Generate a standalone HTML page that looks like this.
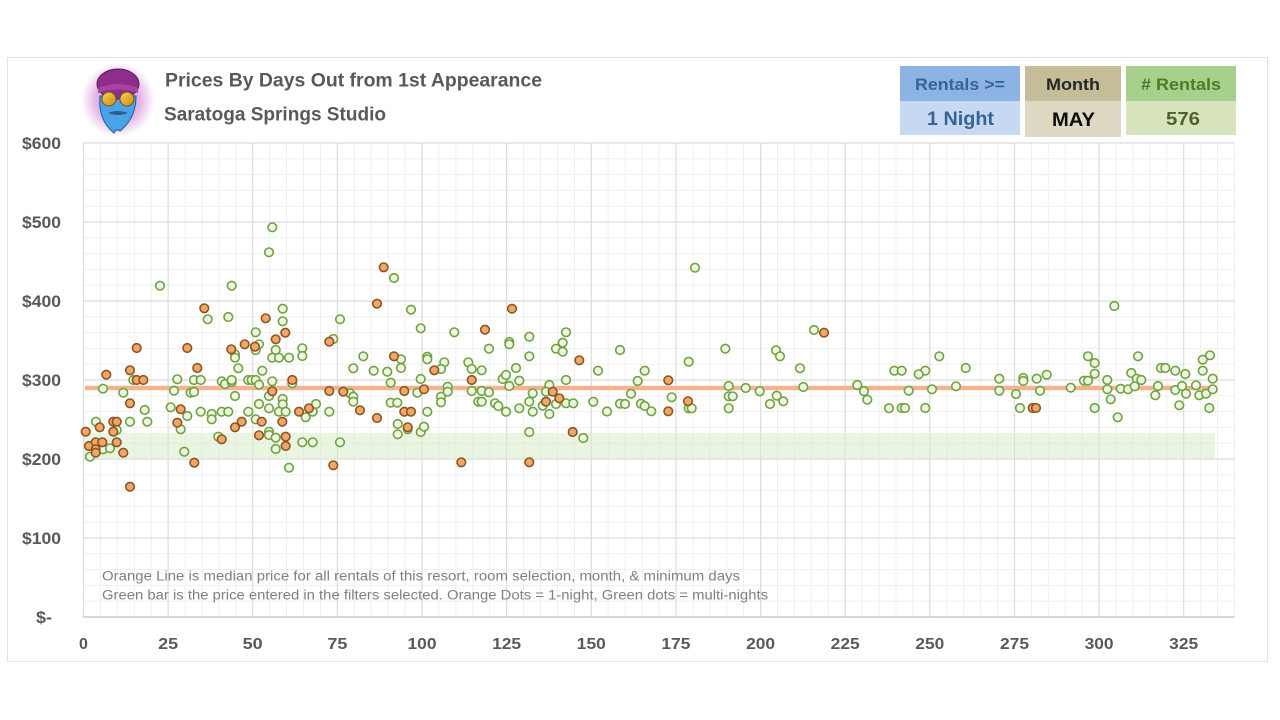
<!DOCTYPE html>
<html><head><meta charset="utf-8"><style>
html,body{margin:0;padding:0;background:#fff;}
svg{display:block;}
text{font-family:"Liberation Sans",Arial,sans-serif;}
</style></head><body>
<svg width="1280" height="720" viewBox="0 0 1280 720" xmlns="http://www.w3.org/2000/svg">
<defs>
<radialGradient id="glow" cx="50%" cy="50%" r="50%">
<stop offset="0%" stop-color="#c77ed0"/>
<stop offset="60%" stop-color="#e3b6e8"/>
<stop offset="100%" stop-color="#ffffff"/>
</radialGradient>
<linearGradient id="gold" x1="0" y1="0" x2="1" y2="1">
<stop offset="0%" stop-color="#f7d35a"/><stop offset="100%" stop-color="#c98a14"/>
</linearGradient>
</defs>
<rect x="0" y="0" width="1280" height="720" fill="#fff"/>
<rect x="7.5" y="57.5" width="1260" height="604" fill="#fff" stroke="#e4e4e4" stroke-width="1"/>

<!-- logo -->
<circle cx="118" cy="100" r="37" fill="url(#glow)"/>
<path d="M100 96 Q98 120 114 133 Q116 128 120 131 Q136 118 136 96 Z" fill="#4aa3e6" stroke="#2a6aa8" stroke-width="1.2"/>
<ellipse cx="118" cy="84" rx="21" ry="15" fill="#8e2d8c" stroke="#5a1a5a" stroke-width="1"/>
<path d="M98 88 Q118 80 138 88 L138 93 Q118 86 98 93 Z" fill="#a8439f"/>
<circle cx="109" cy="99" r="7" fill="url(#gold)" stroke="#7a5010" stroke-width="1"/>
<circle cx="127" cy="99" r="7" fill="url(#gold)" stroke="#7a5010" stroke-width="1"/>
<path d="M108 113 Q118 109 128 113 Q118 117 108 113Z" fill="#2f5e8e"/>

<!-- title -->
<text x="165" y="86.5" font-size="19" font-weight="bold" fill="#595959" textLength="377" lengthAdjust="spacingAndGlyphs">Prices By Days Out from 1st Appearance</text>
<text x="164" y="120.5" font-size="19" font-weight="bold" fill="#595959" textLength="222" lengthAdjust="spacingAndGlyphs">Saratoga Springs Studio</text>

<!-- boxes -->
<rect x="900" y="66" width="120" height="35" fill="#8db3e2"/>
<rect x="900" y="101" width="120" height="34" fill="#c6d9f1"/>
<text x="960" y="90" font-size="17" font-weight="bold" fill="#36639a" text-anchor="middle" textLength="90" lengthAdjust="spacingAndGlyphs">Rentals &gt;=</text>
<text x="960.5" y="125" font-size="19" font-weight="bold" fill="#36639a" text-anchor="middle" textLength="67" lengthAdjust="spacingAndGlyphs">1 Night</text>

<rect x="1025" y="66" width="96" height="35" fill="#c4bd97"/>
<rect x="1025" y="101" width="96" height="36" fill="#ddd9c3"/>
<text x="1073" y="90" font-size="17" font-weight="bold" fill="#262626" text-anchor="middle" textLength="54" lengthAdjust="spacingAndGlyphs">Month</text>
<text x="1073.5" y="126" font-size="19" font-weight="bold" fill="#0d0d0d" text-anchor="middle" textLength="43" lengthAdjust="spacingAndGlyphs">MAY</text>

<rect x="1126" y="66" width="110" height="35" fill="#a8d08d"/>
<rect x="1126" y="101" width="110" height="34" fill="#d8e4bc"/>
<text x="1181" y="90" font-size="17" font-weight="bold" fill="#4f7a28" text-anchor="middle" textLength="80" lengthAdjust="spacingAndGlyphs">#  Rentals</text>
<text x="1183" y="125" font-size="18" font-weight="bold" fill="#4f6228" text-anchor="middle" textLength="34" lengthAdjust="spacingAndGlyphs">576</text>

<!-- grid -->
<g stroke="#efefef" stroke-width="1">
<line x1="100.4" y1="143" x2="100.4" y2="617"/><line x1="117.3" y1="143" x2="117.3" y2="617"/><line x1="134.3" y1="143" x2="134.3" y2="617"/><line x1="151.2" y1="143" x2="151.2" y2="617"/>
<line x1="185.1" y1="143" x2="185.1" y2="617"/><line x1="202" y1="143" x2="202" y2="617"/><line x1="218.9" y1="143" x2="218.9" y2="617"/><line x1="235.8" y1="143" x2="235.8" y2="617"/>
<line x1="269.7" y1="143" x2="269.7" y2="617"/><line x1="286.6" y1="143" x2="286.6" y2="617"/><line x1="303.5" y1="143" x2="303.5" y2="617"/><line x1="320.5" y1="143" x2="320.5" y2="617"/>
<line x1="354.3" y1="143" x2="354.3" y2="617"/><line x1="371.2" y1="143" x2="371.2" y2="617"/><line x1="388.2" y1="143" x2="388.2" y2="617"/><line x1="405.1" y1="143" x2="405.1" y2="617"/>
<line x1="439" y1="143" x2="439" y2="617"/><line x1="455.9" y1="143" x2="455.9" y2="617"/><line x1="472.8" y1="143" x2="472.8" y2="617"/><line x1="489.7" y1="143" x2="489.7" y2="617"/>
<line x1="523.6" y1="143" x2="523.6" y2="617"/><line x1="540.5" y1="143" x2="540.5" y2="617"/><line x1="557.4" y1="143" x2="557.4" y2="617"/><line x1="574.4" y1="143" x2="574.4" y2="617"/>
<line x1="608.2" y1="143" x2="608.2" y2="617"/><line x1="625.2" y1="143" x2="625.2" y2="617"/><line x1="642.1" y1="143" x2="642.1" y2="617"/><line x1="659" y1="143" x2="659" y2="617"/>
<line x1="692.9" y1="143" x2="692.9" y2="617"/><line x1="709.8" y1="143" x2="709.8" y2="617"/><line x1="726.7" y1="143" x2="726.7" y2="617"/><line x1="743.6" y1="143" x2="743.6" y2="617"/>
<line x1="777.5" y1="143" x2="777.5" y2="617"/><line x1="794.4" y1="143" x2="794.4" y2="617"/><line x1="811.3" y1="143" x2="811.3" y2="617"/><line x1="828.3" y1="143" x2="828.3" y2="617"/>
<line x1="862.1" y1="143" x2="862.1" y2="617"/><line x1="879.1" y1="143" x2="879.1" y2="617"/><line x1="896" y1="143" x2="896" y2="617"/><line x1="912.9" y1="143" x2="912.9" y2="617"/>
<line x1="946.8" y1="143" x2="946.8" y2="617"/><line x1="963.7" y1="143" x2="963.7" y2="617"/><line x1="980.6" y1="143" x2="980.6" y2="617"/><line x1="997.5" y1="143" x2="997.5" y2="617"/>
<line x1="1031.4" y1="143" x2="1031.4" y2="617"/><line x1="1048.3" y1="143" x2="1048.3" y2="617"/><line x1="1065.3" y1="143" x2="1065.3" y2="617"/><line x1="1082.2" y1="143" x2="1082.2" y2="617"/>
<line x1="1116" y1="143" x2="1116" y2="617"/><line x1="1133" y1="143" x2="1133" y2="617"/><line x1="1149.9" y1="143" x2="1149.9" y2="617"/><line x1="1166.8" y1="143" x2="1166.8" y2="617"/>
<line x1="1200.7" y1="143" x2="1200.7" y2="617"/><line x1="1217.6" y1="143" x2="1217.6" y2="617"/><line x1="1234.5" y1="143" x2="1234.5" y2="617"/>
<line x1="83.5" y1="158.8" x2="1234.5" y2="158.8"/><line x1="83.5" y1="174.6" x2="1234.5" y2="174.6"/><line x1="83.5" y1="190.4" x2="1234.5" y2="190.4"/><line x1="83.5" y1="206.2" x2="1234.5" y2="206.2"/>
<line x1="83.5" y1="237.8" x2="1234.5" y2="237.8"/><line x1="83.5" y1="253.6" x2="1234.5" y2="253.6"/><line x1="83.5" y1="269.4" x2="1234.5" y2="269.4"/><line x1="83.5" y1="285.2" x2="1234.5" y2="285.2"/>
<line x1="83.5" y1="316.8" x2="1234.5" y2="316.8"/><line x1="83.5" y1="332.6" x2="1234.5" y2="332.6"/><line x1="83.5" y1="348.4" x2="1234.5" y2="348.4"/><line x1="83.5" y1="364.2" x2="1234.5" y2="364.2"/>
<line x1="83.5" y1="395.8" x2="1234.5" y2="395.8"/><line x1="83.5" y1="411.6" x2="1234.5" y2="411.6"/><line x1="83.5" y1="427.4" x2="1234.5" y2="427.4"/><line x1="83.5" y1="443.2" x2="1234.5" y2="443.2"/>
<line x1="83.5" y1="474.8" x2="1234.5" y2="474.8"/><line x1="83.5" y1="490.6" x2="1234.5" y2="490.6"/><line x1="83.5" y1="506.4" x2="1234.5" y2="506.4"/><line x1="83.5" y1="522.2" x2="1234.5" y2="522.2"/>
<line x1="83.5" y1="553.8" x2="1234.5" y2="553.8"/><line x1="83.5" y1="569.6" x2="1234.5" y2="569.6"/><line x1="83.5" y1="585.4" x2="1234.5" y2="585.4"/><line x1="83.5" y1="601.2" x2="1234.5" y2="601.2"/>
</g>
<g stroke="#dcdcdc" stroke-width="1.2">
<line x1="83.5" y1="143" x2="83.5" y2="617"/><line x1="168.1" y1="143" x2="168.1" y2="617"/><line x1="252.7" y1="143" x2="252.7" y2="617"/><line x1="337.4" y1="143" x2="337.4" y2="617"/>
<line x1="422" y1="143" x2="422" y2="617"/><line x1="506.6" y1="143" x2="506.6" y2="617"/><line x1="591.3" y1="143" x2="591.3" y2="617"/><line x1="675.9" y1="143" x2="675.9" y2="617"/>
<line x1="760.6" y1="143" x2="760.6" y2="617"/><line x1="845.2" y1="143" x2="845.2" y2="617"/><line x1="929.8" y1="143" x2="929.8" y2="617"/><line x1="1014.5" y1="143" x2="1014.5" y2="617"/>
<line x1="1099.1" y1="143" x2="1099.1" y2="617"/><line x1="1183.7" y1="143" x2="1183.7" y2="617"/>
<line x1="83.5" y1="143" x2="1234.5" y2="143"/><line x1="83.5" y1="222" x2="1234.5" y2="222"/><line x1="83.5" y1="301" x2="1234.5" y2="301"/><line x1="83.5" y1="380" x2="1234.5" y2="380"/>
<line x1="83.5" y1="459" x2="1234.5" y2="459"/><line x1="83.5" y1="538" x2="1234.5" y2="538"/>
</g>
<line x1="83.5" y1="617" x2="1234.5" y2="617" stroke="#c8c8c8" stroke-width="1.5"/>

<!-- green bar & orange median line -->
<rect x="84" y="433" width="1131" height="26" fill="#d9ecc9" fill-opacity="0.55"/>
<line x1="85" y1="388" x2="1214" y2="388" stroke="#f2b48f" stroke-width="4.5"/>

<!-- axis labels -->
<g font-size="17" font-weight="bold" fill="#595959" text-anchor="end">
<text x="61" y="149" textLength="39" lengthAdjust="spacingAndGlyphs">$600</text>
<text x="61" y="228" textLength="39" lengthAdjust="spacingAndGlyphs">$500</text>
<text x="61" y="307" textLength="39" lengthAdjust="spacingAndGlyphs">$400</text>
<text x="61" y="386" textLength="39" lengthAdjust="spacingAndGlyphs">$300</text>
<text x="61" y="465" textLength="39" lengthAdjust="spacingAndGlyphs">$200</text>
<text x="61" y="544" textLength="39" lengthAdjust="spacingAndGlyphs">$100</text>
<text x="52" y="623" textLength="16" lengthAdjust="spacingAndGlyphs">$-</text>
</g>
<g font-size="16" font-weight="bold" fill="#595959" text-anchor="middle">
<text x="83.5" y="649">0</text>
<text x="168.1" y="649" textLength="20" lengthAdjust="spacingAndGlyphs">25</text>
<text x="252.7" y="649" textLength="20" lengthAdjust="spacingAndGlyphs">50</text>
<text x="337.4" y="649" textLength="20" lengthAdjust="spacingAndGlyphs">75</text>
<text x="422" y="649" textLength="29" lengthAdjust="spacingAndGlyphs">100</text>
<text x="506.6" y="649" textLength="29" lengthAdjust="spacingAndGlyphs">125</text>
<text x="591.3" y="649" textLength="29" lengthAdjust="spacingAndGlyphs">150</text>
<text x="675.9" y="649" textLength="29" lengthAdjust="spacingAndGlyphs">175</text>
<text x="760.6" y="649" textLength="29" lengthAdjust="spacingAndGlyphs">200</text>
<text x="845.2" y="649" textLength="29" lengthAdjust="spacingAndGlyphs">225</text>
<text x="929.8" y="649" textLength="29" lengthAdjust="spacingAndGlyphs">250</text>
<text x="1014.5" y="649" textLength="29" lengthAdjust="spacingAndGlyphs">275</text>
<text x="1099.1" y="649" textLength="29" lengthAdjust="spacingAndGlyphs">300</text>
<text x="1183.7" y="649" textLength="29" lengthAdjust="spacingAndGlyphs">325</text>
</g>

<!-- note text -->
<text x="102" y="580.5" font-size="13.5" fill="#7f7f7f" textLength="638" lengthAdjust="spacingAndGlyphs">Orange Line is median price for all rentals of this resort, room selection, month, &amp; minimum days</text>
<text x="102" y="599.5" font-size="13.5" fill="#7f7f7f" textLength="666" lengthAdjust="spacingAndGlyphs">Green bar is the price entered in the filters selected. Orange Dots = 1-night, Green dots = multi-nights</text>

<!-- green dots -->
<g fill="#eef6e4" stroke="#6fa33f" stroke-width="1.6">
<circle cx="272.3" cy="227.3" r="4.3"/><circle cx="269" cy="252.3" r="4.3"/><circle cx="160" cy="285.7" r="4.3"/><circle cx="231.7" cy="285.7" r="4.3"/><circle cx="207.7" cy="319.3" r="4.3"/><circle cx="228.3" cy="317" r="4.3"/><circle cx="282.7" cy="308.7" r="4.3"/><circle cx="282.7" cy="321.3" r="4.3"/><circle cx="255.7" cy="332.3" r="4.3"/><circle cx="259" cy="344.3" r="4.3"/><circle cx="255.7" cy="350" r="4.3"/><circle cx="235" cy="354.3" r="4.3"/><circle cx="235" cy="357.7" r="4.3"/><circle cx="238.3" cy="368.3" r="4.3"/><circle cx="262.3" cy="370.7" r="4.3"/><circle cx="275.7" cy="350" r="4.3"/><circle cx="272.3" cy="357.7" r="4.3"/><circle cx="279" cy="357.7" r="4.3"/><circle cx="289" cy="357.7" r="4.3"/><circle cx="302.3" cy="348.3" r="4.3"/><circle cx="302.3" cy="356" r="4.3"/><circle cx="333.3" cy="339" r="4.3"/><circle cx="340" cy="319.3" r="4.3"/><circle cx="353.3" cy="368.3" r="4.3"/><circle cx="133.3" cy="380" r="4.3"/><circle cx="103" cy="388.7" r="4.3"/><circle cx="123.3" cy="392.7" r="4.3"/><circle cx="177.3" cy="379.3" r="4.3"/><circle cx="174" cy="390.7" r="4.3"/><circle cx="190.7" cy="392.7" r="4.3"/><circle cx="194" cy="392" r="4.3"/><circle cx="194" cy="380" r="4.3"/><circle cx="200.7" cy="380" r="4.3"/><circle cx="221.7" cy="381.3" r="4.3"/><circle cx="225" cy="384" r="4.3"/><circle cx="231.7" cy="382" r="4.3"/><circle cx="231.7" cy="380" r="4.3"/><circle cx="235" cy="396" r="4.3"/><circle cx="248.3" cy="380" r="4.3"/><circle cx="251.7" cy="380" r="4.3"/><circle cx="255.7" cy="380" r="4.3"/><circle cx="259" cy="384.7" r="4.3"/><circle cx="272.3" cy="381.3" r="4.3"/><circle cx="292.3" cy="383.3" r="4.3"/><circle cx="269" cy="396" r="4.3"/><circle cx="350" cy="393.3" r="4.3"/><circle cx="353.3" cy="396.7" r="4.3"/><circle cx="353.3" cy="401.7" r="4.3"/><circle cx="144.7" cy="410" r="4.3"/><circle cx="170.7" cy="407.3" r="4.3"/><circle cx="187.3" cy="416" r="4.3"/><circle cx="200.7" cy="411.7" r="4.3"/><circle cx="211.7" cy="414" r="4.3"/><circle cx="211.7" cy="419.3" r="4.3"/><circle cx="221.7" cy="411.7" r="4.3"/><circle cx="228.3" cy="411.7" r="4.3"/><circle cx="248.3" cy="411.7" r="4.3"/><circle cx="259" cy="404" r="4.3"/><circle cx="269" cy="408.3" r="4.3"/><circle cx="282.7" cy="399" r="4.3"/><circle cx="282.7" cy="404.3" r="4.3"/><circle cx="279" cy="411.7" r="4.3"/><circle cx="285.7" cy="411.7" r="4.3"/><circle cx="312.7" cy="411.7" r="4.3"/><circle cx="316" cy="404" r="4.3"/><circle cx="305.7" cy="417.3" r="4.3"/><circle cx="329.3" cy="411.7" r="4.3"/><circle cx="96" cy="421.7" r="4.3"/><circle cx="116.7" cy="430" r="4.3"/><circle cx="130" cy="421.7" r="4.3"/><circle cx="147.3" cy="421.7" r="4.3"/><circle cx="180.7" cy="429.3" r="4.3"/><circle cx="255.7" cy="419.3" r="4.3"/><circle cx="103" cy="449.3" r="4.3"/><circle cx="110" cy="448.3" r="4.3"/><circle cx="90" cy="456.7" r="4.3"/><circle cx="184.3" cy="451.7" r="4.3"/><circle cx="218.3" cy="436.7" r="4.3"/><circle cx="269" cy="431.7" r="4.3"/><circle cx="269" cy="435" r="4.3"/><circle cx="275.7" cy="437.7" r="4.3"/><circle cx="275.7" cy="449" r="4.3"/><circle cx="302.3" cy="442.3" r="4.3"/><circle cx="312.7" cy="442.3" r="4.3"/><circle cx="340" cy="442.3" r="4.3"/><circle cx="289" cy="467.7" r="4.3"/>
<circle cx="394" cy="278" r="4.3"/><circle cx="411" cy="309.7" r="4.3"/><circle cx="420.7" cy="328.3" r="4.3"/><circle cx="454.3" cy="332.3" r="4.3"/><circle cx="566" cy="332.3" r="4.3"/><circle cx="529.3" cy="336.7" r="4.3"/><circle cx="509.3" cy="342" r="4.3"/><circle cx="509.3" cy="344.3" r="4.3"/><circle cx="489" cy="348.7" r="4.3"/><circle cx="556" cy="348.7" r="4.3"/><circle cx="562.7" cy="342.7" r="4.3"/><circle cx="562.7" cy="351.7" r="4.3"/><circle cx="529.3" cy="356.3" r="4.3"/><circle cx="620" cy="350" r="4.3"/><circle cx="363.3" cy="356.3" r="4.3"/><circle cx="401" cy="359.3" r="4.3"/><circle cx="401" cy="368" r="4.3"/><circle cx="427.3" cy="356.7" r="4.3"/><circle cx="427.3" cy="359.3" r="4.3"/><circle cx="444.3" cy="362.3" r="4.3"/><circle cx="441" cy="369" r="4.3"/><circle cx="373.7" cy="370.7" r="4.3"/><circle cx="387.3" cy="371.7" r="4.3"/><circle cx="468.3" cy="362.3" r="4.3"/><circle cx="471.7" cy="369" r="4.3"/><circle cx="481.7" cy="370.3" r="4.3"/><circle cx="516" cy="368" r="4.3"/><circle cx="598" cy="370.7" r="4.3"/><circle cx="390.7" cy="382.7" r="4.3"/><circle cx="420.7" cy="379" r="4.3"/><circle cx="502.7" cy="379" r="4.3"/><circle cx="506" cy="375" r="4.3"/><circle cx="519.3" cy="380.7" r="4.3"/><circle cx="566" cy="380" r="4.3"/><circle cx="509.3" cy="386" r="4.3"/><circle cx="417.3" cy="392.7" r="4.3"/><circle cx="447.7" cy="386.7" r="4.3"/><circle cx="447.7" cy="391.7" r="4.3"/><circle cx="441" cy="396.7" r="4.3"/><circle cx="441" cy="402.3" r="4.3"/><circle cx="471.7" cy="391" r="4.3"/><circle cx="481.7" cy="391" r="4.3"/><circle cx="489" cy="392.3" r="4.3"/><circle cx="478.3" cy="401.7" r="4.3"/><circle cx="481.7" cy="401.7" r="4.3"/><circle cx="495" cy="403.3" r="4.3"/><circle cx="498.3" cy="406" r="4.3"/><circle cx="506" cy="411.7" r="4.3"/><circle cx="519.3" cy="408.3" r="4.3"/><circle cx="532.7" cy="393.3" r="4.3"/><circle cx="529.3" cy="401.7" r="4.3"/><circle cx="532.7" cy="411.7" r="4.3"/><circle cx="549.3" cy="385" r="4.3"/><circle cx="546" cy="391.7" r="4.3"/><circle cx="542.7" cy="405.7" r="4.3"/><circle cx="549.3" cy="414" r="4.3"/><circle cx="556" cy="404" r="4.3"/><circle cx="566" cy="403.3" r="4.3"/><circle cx="573.3" cy="403.3" r="4.3"/><circle cx="593.3" cy="401.7" r="4.3"/><circle cx="607" cy="411.5" r="4.3"/><circle cx="620" cy="403.7" r="4.3"/><circle cx="390.7" cy="402.7" r="4.3"/><circle cx="397.3" cy="402.7" r="4.3"/><circle cx="427.3" cy="411.7" r="4.3"/><circle cx="397.7" cy="424" r="4.3"/><circle cx="407.7" cy="429.3" r="4.3"/><circle cx="397.7" cy="434.3" r="4.3"/><circle cx="420.7" cy="432" r="4.3"/><circle cx="424" cy="426.7" r="4.3"/><circle cx="529.3" cy="432" r="4.3"/><circle cx="583.3" cy="438" r="4.3"/>
<circle cx="695" cy="267.7" r="4.3"/><circle cx="814" cy="330" r="4.3"/><circle cx="725.3" cy="348.7" r="4.3"/><circle cx="776" cy="350.3" r="4.3"/><circle cx="780" cy="356.3" r="4.3"/><circle cx="688.7" cy="361.7" r="4.3"/><circle cx="644.7" cy="370.7" r="4.3"/><circle cx="800" cy="368.3" r="4.3"/><circle cx="894.3" cy="370.7" r="4.3"/><circle cx="637.7" cy="381" r="4.3"/><circle cx="728.7" cy="386" r="4.3"/><circle cx="745.7" cy="388" r="4.3"/><circle cx="759.7" cy="391.3" r="4.3"/><circle cx="803.3" cy="387" r="4.3"/><circle cx="857.3" cy="385" r="4.3"/><circle cx="864" cy="391.3" r="4.3"/><circle cx="867.3" cy="399.7" r="4.3"/><circle cx="631" cy="393.7" r="4.3"/><circle cx="671.7" cy="397.3" r="4.3"/><circle cx="728.7" cy="396.3" r="4.3"/><circle cx="732.7" cy="396.3" r="4.3"/><circle cx="776.7" cy="395.7" r="4.3"/><circle cx="783.3" cy="401.3" r="4.3"/><circle cx="770" cy="404" r="4.3"/><circle cx="625" cy="404" r="4.3"/><circle cx="641" cy="403.7" r="4.3"/><circle cx="644.7" cy="406" r="4.3"/><circle cx="651.3" cy="411.3" r="4.3"/><circle cx="688.7" cy="408.3" r="4.3"/><circle cx="691.7" cy="408.3" r="4.3"/><circle cx="728.7" cy="408.3" r="4.3"/><circle cx="889" cy="408.2" r="4.3"/>
<circle cx="1114.3" cy="306" r="4.3"/><circle cx="939.3" cy="356.3" r="4.3"/><circle cx="1138" cy="356.3" r="4.3"/><circle cx="1088" cy="356.3" r="4.3"/><circle cx="1094.7" cy="363" r="4.3"/><circle cx="1210" cy="355.3" r="4.3"/><circle cx="1202.7" cy="359.7" r="4.3"/><circle cx="965.7" cy="368" r="4.3"/><circle cx="901.7" cy="370.7" r="4.3"/><circle cx="925.3" cy="370.7" r="4.3"/><circle cx="918.7" cy="374.3" r="4.3"/><circle cx="999.3" cy="378.7" r="4.3"/><circle cx="1023.3" cy="378" r="4.3"/><circle cx="1023.3" cy="381" r="4.3"/><circle cx="1036.7" cy="378.7" r="4.3"/><circle cx="1046.7" cy="374.7" r="4.3"/><circle cx="1094.7" cy="373.7" r="4.3"/><circle cx="1084" cy="380.7" r="4.3"/><circle cx="1088" cy="380.7" r="4.3"/><circle cx="1107.3" cy="380" r="4.3"/><circle cx="1131.3" cy="373" r="4.3"/><circle cx="1136.7" cy="378.7" r="4.3"/><circle cx="1141.3" cy="380" r="4.3"/><circle cx="1161" cy="368" r="4.3"/><circle cx="1165.3" cy="368" r="4.3"/><circle cx="1175.3" cy="370.7" r="4.3"/><circle cx="1185.3" cy="374" r="4.3"/><circle cx="1202.7" cy="370.7" r="4.3"/><circle cx="1212.7" cy="378.7" r="4.3"/><circle cx="908.7" cy="390.7" r="4.3"/><circle cx="932" cy="389.3" r="4.3"/><circle cx="956" cy="386.3" r="4.3"/><circle cx="999.3" cy="390.7" r="4.3"/><circle cx="1016" cy="394" r="4.3"/><circle cx="1040" cy="390.7" r="4.3"/><circle cx="1070.7" cy="387.7" r="4.3"/><circle cx="1107.3" cy="389.3" r="4.3"/><circle cx="1120.7" cy="388.7" r="4.3"/><circle cx="1128" cy="389.3" r="4.3"/><circle cx="1134.7" cy="386.3" r="4.3"/><circle cx="1158" cy="386" r="4.3"/><circle cx="1155.3" cy="395.3" r="4.3"/><circle cx="1175.3" cy="390" r="4.3"/><circle cx="1182" cy="386" r="4.3"/><circle cx="1186" cy="393.7" r="4.3"/><circle cx="1196" cy="385.3" r="4.3"/><circle cx="1199.3" cy="395.3" r="4.3"/><circle cx="1206" cy="393.7" r="4.3"/><circle cx="1212.7" cy="389.3" r="4.3"/><circle cx="1110.7" cy="399.3" r="4.3"/><circle cx="901.7" cy="408" r="4.3"/><circle cx="905" cy="408" r="4.3"/><circle cx="925.3" cy="408" r="4.3"/><circle cx="1020" cy="408" r="4.3"/><circle cx="1094.7" cy="408" r="4.3"/><circle cx="1179.3" cy="405.3" r="4.3"/><circle cx="1209.3" cy="408" r="4.3"/><circle cx="1117.7" cy="417.3" r="4.3"/>
</g>

<!-- orange dots -->
<g fill="#f0a866" stroke="#8c5525" stroke-width="1.6">
<circle cx="204.3" cy="308.3" r="4.3"/><circle cx="265.7" cy="318.3" r="4.3"/><circle cx="285.3" cy="332.7" r="4.3"/><circle cx="275.7" cy="339.3" r="4.3"/><circle cx="255" cy="346.7" r="4.3"/><circle cx="244.7" cy="344.3" r="4.3"/><circle cx="231.3" cy="349.3" r="4.3"/><circle cx="329.3" cy="341.7" r="4.3"/><circle cx="136.7" cy="348" r="4.3"/><circle cx="187.3" cy="348" r="4.3"/><circle cx="197.3" cy="368" r="4.3"/><circle cx="106.3" cy="374.7" r="4.3"/><circle cx="130" cy="370.3" r="4.3"/><circle cx="136.7" cy="380" r="4.3"/><circle cx="143.3" cy="380" r="4.3"/><circle cx="292.3" cy="380" r="4.3"/><circle cx="272.3" cy="391.3" r="4.3"/><circle cx="329.3" cy="391" r="4.3"/><circle cx="343.3" cy="391.7" r="4.3"/><circle cx="360" cy="410.3" r="4.3"/><circle cx="130" cy="403.3" r="4.3"/><circle cx="180.7" cy="409.3" r="4.3"/><circle cx="299" cy="411.7" r="4.3"/><circle cx="309" cy="408.3" r="4.3"/><circle cx="99.7" cy="427.3" r="4.3"/><circle cx="113.3" cy="421.7" r="4.3"/><circle cx="116.7" cy="421.7" r="4.3"/><circle cx="113.3" cy="431.7" r="4.3"/><circle cx="177.3" cy="422.7" r="4.3"/><circle cx="261.7" cy="421.7" r="4.3"/><circle cx="241.7" cy="421.7" r="4.3"/><circle cx="235" cy="427.3" r="4.3"/><circle cx="282.3" cy="421.7" r="4.3"/><circle cx="85.7" cy="431.7" r="4.3"/><circle cx="89" cy="446" r="4.3"/><circle cx="95.7" cy="442.3" r="4.3"/><circle cx="102.3" cy="442.3" r="4.3"/><circle cx="95.7" cy="449.3" r="4.3"/><circle cx="95.7" cy="452.7" r="4.3"/><circle cx="116.7" cy="442.3" r="4.3"/><circle cx="123.3" cy="452.7" r="4.3"/><circle cx="130" cy="486.7" r="4.3"/><circle cx="194.3" cy="462.7" r="4.3"/><circle cx="221.7" cy="439.3" r="4.3"/><circle cx="259" cy="435.3" r="4.3"/><circle cx="285.7" cy="436.7" r="4.3"/><circle cx="285.7" cy="446" r="4.3"/><circle cx="333.3" cy="465.3" r="4.3"/>
<circle cx="383.7" cy="267.3" r="4.3"/><circle cx="377" cy="303.7" r="4.3"/><circle cx="512" cy="308.7" r="4.3"/><circle cx="485" cy="329.7" r="4.3"/><circle cx="579.3" cy="360.3" r="4.3"/><circle cx="394" cy="356.3" r="4.3"/><circle cx="434.3" cy="370.3" r="4.3"/><circle cx="471.7" cy="380" r="4.3"/><circle cx="404.3" cy="391" r="4.3"/><circle cx="424" cy="389.3" r="4.3"/><circle cx="552.7" cy="391.7" r="4.3"/><circle cx="559.3" cy="398.3" r="4.3"/><circle cx="546" cy="401.7" r="4.3"/><circle cx="377" cy="418" r="4.3"/><circle cx="404.3" cy="411.7" r="4.3"/><circle cx="411" cy="411.7" r="4.3"/><circle cx="407.7" cy="427.3" r="4.3"/><circle cx="572.7" cy="432" r="4.3"/><circle cx="461.3" cy="462.3" r="4.3"/><circle cx="529.3" cy="462.3" r="4.3"/>
<circle cx="824" cy="332.7" r="4.3"/><circle cx="668.3" cy="380.3" r="4.3"/><circle cx="688" cy="401.3" r="4.3"/><circle cx="668.3" cy="411.3" r="4.3"/>
<circle cx="1032.7" cy="408" r="4.3"/><circle cx="1036" cy="408" r="4.3"/>
</g>
</svg>
</body></html>
